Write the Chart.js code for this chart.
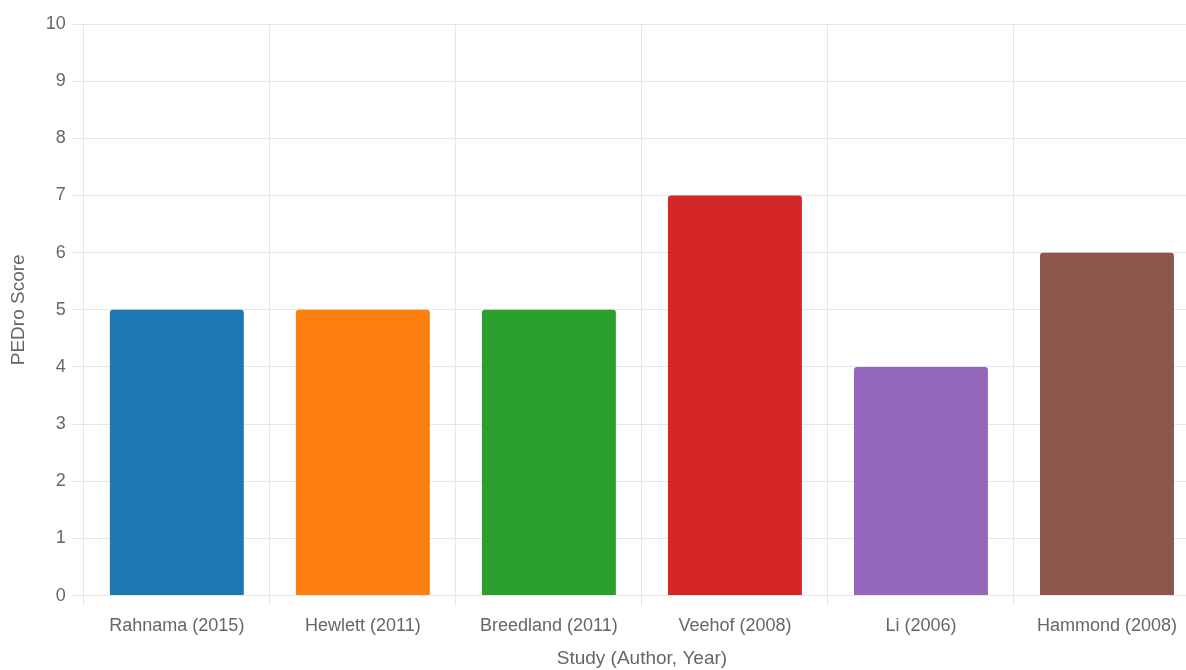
<!DOCTYPE html>
<html>
<head>
<meta charset="utf-8">
<script src="https://cdn.jsdelivr.net/npm/chart.js@4/dist/chart.umd.min.js"></script>
<style>
  html, body { margin: 0; padding: 0; background: #fff; overflow: hidden; }
  #wrap { width: 1200px; height: 670px; }
</style>
</head>
<body>
<div id="wrap"><canvas id="bars"></canvas></div>
<script>
const studies = ["Rahnama (2015)", "Hewlett (2011)", "Breedland (2011)", "Veehof (2008)", "Li (2006)", "Hammond (2008)"];
const scores = [5, 5, 5, 7, 4, 6];
const barColors = ["#1f77b4", "#ff7f0e", "#2ca02c", "#d62728", "#9467bd", "#8c564b"];

Chart.defaults.font.family = "'Liberation Sans', Arial, sans-serif";
Chart.defaults.color = "#666";

new Chart(document.getElementById("bars"), {
  type: "bar",
  data: {
    labels: studies,
    datasets: [{
      data: scores,
      backgroundColor: barColors,
      borderRadius: 3,
      borderSkipped: "bottom",
    }],
  },
  options: {
    responsive: true,
    maintainAspectRatio: false,
    animation: false,
    layout: { padding: { top: 24, left: 7, right: 0, bottom: 0 } },
    plugins: {
      legend: { display: false },
      tooltip: { enabled: false },
    },
    scales: {
      x: {
        grid: { color: "#e6e6e6", tickLength: 10 },
        border: { color: "#e6e6e6" },
        ticks: { font: { size: 18 }, color: "#666", padding: 10 },
        title: { display: true, text: "Study (Author, Year)", font: { size: 19 }, color: "#666", padding: { top: 0, bottom: 0 } },
      },
      y: {
        min: 0,
        max: 10,
        grid: { color: "#e6e6e6", tickLength: 12 },
        border: { color: "#e6e6e6" },
        ticks: { stepSize: 1, font: { size: 18 }, color: "#666", padding: 6 },
        title: { display: true, text: "PEDro Score", font: { size: 19 }, color: "#666", padding: { top: 0, bottom: 10 } },
      },
    },
  },
});
</script>
</body>
</html>
